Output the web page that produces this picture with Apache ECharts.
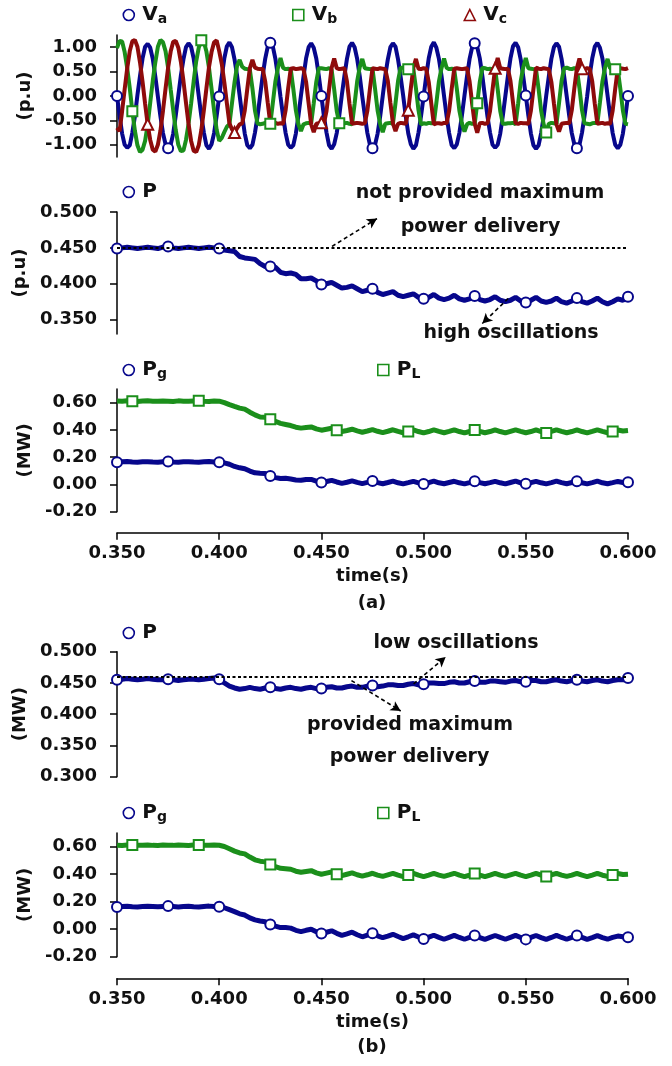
<!DOCTYPE html>
<html><head><meta charset="utf-8">
<script src="https://cdn.jsdelivr.net/npm/echarts@6/dist/echarts.min.js"></script>
<style>html,body{margin:0;padding:0;background:#fff}#c{width:672px;height:1066px}</style>
</head><body><div id="c"></div>
<script>
// ---- data ----
const T0 = 0.35;          // first sample time (s)
const DT_V = 0.00125;     // sample step of the voltage traces (s)
const DT_P = 0.0025;      // sample step of the power traces (s)
const X_TICKS = [0.35, 0.40, 0.45, 0.50, 0.55, 0.60];
const V_TICKS = [-1.0, -0.5, 0.0, 0.5, 1.0];
const PA_TICKS = [0.35, 0.40, 0.45, 0.50];
const MW_TICKS = [-0.2, 0.0, 0.2, 0.4, 0.6];
const PB_TICKS = [0.30, 0.35, 0.40, 0.45, 0.50];
const REF_A = 0.45;
const REF_B = 0.455;

const VA = [
 0,-0.40,-0.77,-1.00,-1.06,-1.01,-0.75,-0.42,0.02,0.41,0.77,1.01,1.07,0.99,0.76,0.40,
 -0.01,-0.42,-0.76,-0.99,-1.07,-1.00,-0.77,-0.40,0.01,0.42,0.75,1.00,1.08,1.01,0.77,0.41,
 0,-0.41,-0.75,-1.01,-1.08,-0.99,-0.76,-0.41,-0.01,0.40,0.77,1.02,1.10,1.00,0.75,0.42,
 0.01,-0.40,-0.77,-1.01,-1.07,-1.00,-0.75,-0.42,0,0.41,0.76,1.01,1.09,1.01,0.76,0.40,
 -0.02,-0.41,-0.76,-1.00,-1.06,-1.01,-0.77,-0.41,0.01,0.40,0.77,1.00,1.08,0.99,0.77,0.41,
 0,-0.42,-0.75,-1.01,-1.08,-0.99,-0.76,-0.40,0.02,0.41,0.76,1.01,1.09,1.00,0.76,0.41,
 -0.01,-0.40,-0.76,-1.00,-1.07,-1.00,-0.77,-0.42,0,0.42,0.75,1.00,1.08,1.01,0.75,0.40,
 0.01,-0.41,-0.77,-0.99,-1.08,-1.01,-0.75,-0.41,-0.01,0.40,0.77,1.01,1.10,0.99,0.76,0.42,
 0,-0.41,-0.76,-1.01,-1.07,-0.99,-0.76,-0.40,0.01,0.41,0.76,1.00,1.08,1.00,0.77,0.41,
 -0.01,-0.42,-0.75,-1.00,-1.06,-1.00,-0.77,-0.41,0,0.41,0.77,1.02,1.09,1.00,0.75,0.40,
 0.01,-0.40,-0.77,-1.01,-1.08,-1.01,-0.76,-0.42,0.01,0.40,0.76,1.00,1.08,1.01,0.76,0.41,
 0,-0.41,-0.76,-0.99,-1.07,-1.00,-0.75,-0.40,-0.01,0.42,0.77,1.01,1.09,0.99,0.77,0.42,
 0.01,-0.40,-0.76,-1.00,-1.07,-1.00,-0.77,-0.41,0
];
const VB = [
 0.98,1.13,1.12,0.90,0.57,0.16,-0.31,-0.71,-1.01,-1.15,-1.10,-0.92,-0.59,-0.14,0.31,0.69,
 1.01,1.15,1.10,0.92,0.58,0.14,-0.29,-0.70,-1.00,-1.13,-1.12,-0.90,-0.57,-0.16,0.30,0.71,
 0.99,1.14,1.11,0.91,0.58,0.15,-0.30,-0.69,-0.92,-0.86,-0.74,-0.63,-0.58,-0.15,0.28,0.62,
 0.74,0.60,0.56,0.55,0.54,0.16,-0.30,-0.56,-0.58,-0.57,-0.55,-0.56,-0.57,-0.14,0.30,0.58,
 0.78,0.58,0.55,0.56,0.55,0.15,-0.29,-0.58,-0.72,-0.58,-0.56,-0.55,-0.56,-0.15,0.29,0.57,
 0.57,0.56,0.55,0.57,0.54,0.14,-0.31,-0.56,-0.57,-0.56,-0.55,-0.57,-0.58,-0.16,0.30,0.59,
 0.76,0.57,0.56,0.55,0.56,0.15,-0.30,-0.57,-0.74,-0.57,-0.56,-0.55,-0.57,-0.15,0.31,0.58,
 0.58,0.56,0.55,0.56,0.55,0.16,-0.29,-0.58,-0.56,-0.57,-0.55,-0.56,-0.56,-0.14,0.30,0.57,
 0.77,0.58,0.55,0.56,0.54,0.15,-0.30,-0.56,-0.73,-0.58,-0.55,-0.57,-0.57,-0.15,0.29,0.58,
 0.57,0.55,0.56,0.55,0.56,0.14,-0.31,-0.57,-0.57,-0.56,-0.56,-0.55,-0.58,-0.16,0.30,0.59,
 0.78,0.57,0.56,0.55,0.55,0.15,-0.30,-0.58,-0.75,-0.57,-0.55,-0.56,-0.57,-0.15,0.31,0.57,
 0.58,0.56,0.55,0.57,0.55,0.16,-0.29,-0.56,-0.57,-0.58,-0.56,-0.55,-0.56,-0.14,0.30,0.58,
 0.76,0.57,0.56,0.55,0.54,0.15,-0.30,-0.57,-0.58
];
const VC = [
 -0.65,-0.72,-0.31,0.14,0.57,0.92,1.12,1.15,1.01,0.69,0.29,-0.16,-0.58,-0.90,-1.10,-1.14,
 -1.00,-0.71,-0.30,0.15,0.58,0.91,1.11,1.13,0.99,0.70,0.31,-0.14,-0.57,-0.92,-1.12,-1.15,
 -1.01,-0.70,-0.29,0.16,0.59,0.90,1.10,1.14,0.92,0.66,0.28,-0.15,-0.56,-0.68,-0.75,-0.66,
 -0.58,-0.56,-0.30,0.15,0.57,0.74,0.58,0.56,0.55,0.56,0.30,-0.14,-0.57,-0.56,-0.55,-0.57,
 -0.56,-0.57,-0.29,0.16,0.56,0.57,0.55,0.56,0.57,0.55,0.29,-0.15,-0.58,-0.74,-0.57,-0.56,
 -0.55,-0.56,-0.31,0.14,0.58,0.77,0.57,0.55,0.56,0.57,0.30,-0.16,-0.57,-0.56,-0.55,-0.56,
 -0.57,-0.56,-0.30,0.15,0.57,0.56,0.55,0.57,0.56,0.55,0.31,-0.14,-0.56,-0.72,-0.57,-0.55,
 -0.56,-0.57,-0.29,0.16,0.58,0.76,0.56,0.55,0.57,0.56,0.29,-0.15,-0.58,-0.56,-0.56,-0.57,
 -0.55,-0.56,-0.30,0.15,0.56,0.57,0.56,0.55,0.56,0.57,0.30,-0.16,-0.57,-0.75,-0.56,-0.55,
 -0.57,-0.56,-0.31,0.14,0.57,0.78,0.57,0.56,0.55,0.56,0.31,-0.14,-0.56,-0.57,-0.55,-0.56,
 -0.56,-0.57,-0.30,0.15,0.58,0.56,0.55,0.57,0.56,0.55,0.29,-0.15,-0.58,-0.73,-0.57,-0.56,
 -0.55,-0.56,-0.29,0.16,0.57,0.77,0.56,0.55,0.57,0.56,0.30,-0.16,-0.57,-0.56,-0.55,-0.57,
 -0.56,-0.57,-0.30,0.15,0.56,0.57,0.56,0.55,0.57
];
const P_A = [
 0.449,0.450,0.451,0.450,0.449,0.450,0.451,0.450,0.449,0.451,0.452,0.450,0.449,0.450,0.451,0.450,0.449,0.450,0.451,0.450,0.449,
 0.447,0.446,0.445,0.438,0.436,0.435,0.434,0.428,0.424,0.424,0.423,0.416,0.414,0.415,0.413,0.407,0.407,0.408,0.404,
 0.399,0.400,0.402,0.398,0.394,0.395,0.397,0.393,0.389,0.391,0.393,0.388,0.385,0.387,0.389,0.384,0.382,0.384,0.386,0.381,
 0.379,0.381,0.385,0.380,0.378,0.380,0.384,0.379,0.377,0.379,0.383,0.378,0.376,0.378,0.382,0.377,0.375,0.377,0.381,0.376,
 0.374,0.377,0.381,0.376,0.374,0.376,0.380,0.375,0.373,0.376,0.380,0.375,0.373,0.376,0.380,0.375,0.372,0.375,0.379,0.377,0.382
];
const PG_A = [
 0.163,0.166,0.168,0.165,0.163,0.166,0.167,0.164,0.163,0.166,0.168,0.165,0.163,0.166,0.167,0.164,0.163,0.166,0.168,0.165,0.163,
 0.158,0.148,0.132,0.122,0.115,0.098,0.085,0.082,0.080,0.062,0.050,0.043,0.045,0.040,0.033,0.030,0.036,0.037,0.025,
 0.015,0.022,0.030,0.018,0.008,0.016,0.026,0.015,0.006,0.015,0.025,0.013,0.005,0.014,0.024,0.012,0.004,0.013,0.023,0.012,
 0.004,0.013,0.024,0.012,0.005,0.014,0.023,0.012,0.004,0.013,0.024,0.013,0.005,0.013,0.023,0.012,0.004,0.014,0.024,0.012,
 0.005,0.013,0.023,0.012,0.004,0.013,0.024,0.013,0.005,0.014,0.023,0.012,0.004,0.013,0.024,0.012,0.005,0.013,0.022,0.014,0.016
];
const PL_A = [
 0.612,0.610,0.613,0.611,0.609,0.612,0.614,0.611,0.610,0.612,0.611,0.609,0.613,0.611,0.610,0.612,0.614,0.611,0.609,0.612,0.611,
 0.600,0.585,0.572,0.560,0.552,0.530,0.510,0.495,0.492,0.478,0.462,0.448,0.440,0.432,0.420,0.413,0.418,0.422,0.408,
 0.398,0.405,0.412,0.398,0.388,0.396,0.405,0.393,0.383,0.392,0.402,0.390,0.380,0.390,0.401,0.389,0.379,0.389,0.400,0.388,
 0.378,0.388,0.400,0.389,0.379,0.389,0.401,0.388,0.378,0.388,0.400,0.389,0.379,0.388,0.401,0.388,0.378,0.389,0.400,0.389,
 0.379,0.388,0.400,0.388,0.378,0.389,0.401,0.389,0.379,0.388,0.400,0.388,0.378,0.389,0.401,0.389,0.379,0.388,0.399,0.392,0.396
];
const P_B = [
 0.455,0.456,0.457,0.456,0.455,0.456,0.457,0.456,0.455,0.455,0.456,0.455,0.454,0.455,0.456,0.456,0.455,0.456,0.457,0.458,0.456,
 0.450,0.445,0.442,0.440,0.441,0.443,0.441,0.440,0.442,0.443,0.441,0.440,0.442,0.443,0.441,0.440,0.442,0.443,0.441,
 0.441,0.443,0.444,0.442,0.442,0.444,0.445,0.443,0.443,0.445,0.446,0.444,0.445,0.447,0.447,0.446,0.446,0.448,0.449,0.447,
 0.448,0.450,0.450,0.449,0.449,0.451,0.452,0.450,0.450,0.452,0.453,0.451,0.451,0.453,0.453,0.452,0.451,0.453,0.454,0.452,
 0.452,0.454,0.454,0.452,0.452,0.454,0.455,0.453,0.452,0.454,0.455,0.453,0.452,0.454,0.455,0.453,0.452,0.454,0.455,0.455,0.458
];
const PG_B = [
 0.162,0.165,0.167,0.164,0.162,0.165,0.167,0.165,0.163,0.166,0.168,0.165,0.162,0.165,0.167,0.164,0.162,0.166,0.168,0.165,0.163,
 0.156,0.142,0.128,0.112,0.103,0.082,0.068,0.060,0.055,0.035,0.022,0.012,0.012,0.008,-0.008,-0.018,-0.008,0.000,-0.018,
 -0.032,-0.022,-0.012,-0.030,-0.045,-0.034,-0.022,-0.040,-0.055,-0.043,-0.030,-0.048,-0.062,-0.050,-0.037,-0.053,-0.068,-0.055,-0.041,-0.057,
 -0.072,-0.058,-0.044,-0.059,-0.073,-0.059,-0.045,-0.060,-0.073,-0.060,-0.046,-0.061,-0.074,-0.060,-0.046,-0.060,-0.073,-0.059,-0.045,-0.060,
 -0.074,-0.060,-0.046,-0.061,-0.074,-0.060,-0.045,-0.060,-0.073,-0.059,-0.045,-0.060,-0.074,-0.061,-0.047,-0.061,-0.073,-0.060,-0.050,-0.055,-0.058
];
const PL_B = [
 0.611,0.609,0.612,0.613,0.610,0.611,0.613,0.610,0.609,0.612,0.611,0.610,0.613,0.611,0.609,0.612,0.613,0.611,0.610,0.612,0.611,
 0.602,0.585,0.568,0.555,0.548,0.525,0.505,0.495,0.490,0.470,0.455,0.443,0.440,0.436,0.422,0.414,0.420,0.426,0.410,
 0.400,0.408,0.416,0.400,0.390,0.400,0.410,0.396,0.386,0.396,0.407,0.394,0.384,0.395,0.406,0.393,0.383,0.394,0.406,0.393,
 0.383,0.394,0.406,0.394,0.384,0.395,0.407,0.393,0.383,0.394,0.406,0.393,0.383,0.394,0.407,0.394,0.384,0.395,0.406,0.393,
 0.383,0.394,0.406,0.393,0.383,0.395,0.407,0.394,0.384,0.394,0.406,0.393,0.383,0.394,0.406,0.393,0.384,0.395,0.405,0.398,0.400
];

// ---- style ----
const FONT = "'DejaVu Sans', sans-serif";
const BLUE = '#07078c', GREEN = '#1b8f1b', RED = '#8e0b0b', INK = '#111';
const LABELS = {Va:['V','a'],Vb:['V','b'],Vc:['V','c'],Pa:['P',''],Pb:['P',''],Pga:['P','g'],PLa:['P','L'],Pgb:['P','g'],PLb:['P','L']};

function pts(values, dt, mark) {
  const out = values.map((v, i) => [+(T0 + i * dt).toFixed(6), v]);
  if (mark) {
    for (let k = 0; ; k++) {
      const tm = mark.start + k * mark.step;
      if (tm > 0.6 + 1e-9) break;
      const i = Math.round((tm - T0) / dt);
      if (i >= 0 && i < out.length) out[i] = {value: out[i], symbol: mark.symbol, symbolSize: mark.size};
    }
  }
  return out;
}
const CIRC = {start: 0.35, step: 0.025, symbol: 'emptyCircle', size: 10};
const SQR = {start: 0.3572, step: 0.03375, symbol: 'emptyRect', size: 10};
const TRI = {start: 0.365, step: 0.0425, symbol: 'emptyTriangle', size: 11};

const grids = [
  {left: 117, right: 44, top: 35, height: 122},
  {left: 117, right: 44, top: 212, height: 122},
  {left: 117, right: 44, top: 389, height: 122.7},
  {left: 117, right: 44, top: 651.7, height: 125},
  {left: 117, right: 44, top: 833, height: 123.7}
].map(g => Object.assign({outerBoundsMode: 'none', containLabel: false}, g));

const txt = (size) => ({fontFamily: FONT, fontWeight: 'bold', fontSize: size, color: INK});

function yAx(gi, min, max, ticks, dec, name) {
  return {type: 'value', gridIndex: gi, min, max, name, nameLocation: 'middle', nameGap: 80, nameRotate: 90,
    nameTextStyle: txt(18),
    axisLine: {show: true, lineStyle: {color: '#000', width: 1.5}},
    axisTick: {show: true, inside: false, length: 7, customValues: ticks, lineStyle: {color: '#000', width: 1.5}},
    axisLabel: Object.assign({customValues: ticks, margin: 20, formatter: v => v.toFixed(dec)}, txt(18)),
    splitLine: {show: false}};
}
function xAx(gi, show, offset) {
  return {type: 'value', gridIndex: gi, min: 0.35, max: 0.6, show, offset,
    name: show ? 'time(s)' : '', nameLocation: 'middle', nameGap: 35, nameTextStyle: txt(18),
    axisLine: {show: true, onZero: false, lineStyle: {color: '#000', width: 1.5}},
    axisTick: {show: true, inside: false, length: 7, customValues: X_TICKS, lineStyle: {color: '#000', width: 1.5}},
    axisLabel: Object.assign({customValues: X_TICKS, margin: 12, formatter: v => v.toFixed(3)}, txt(18)),
    splitLine: {show: false}};
}
// (cx, cy) = centre of the legend symbol
function leg(name, icon, color, cx, cy) {
  return {show: true, selectedMode: false, left: cx - 5.5, top: cy - 11, padding: 0, itemWidth: 11, itemHeight: 11,
    data: [{name, icon, itemStyle: {color: '#fff', borderColor: color, borderWidth: 1.6}}],
    formatter: n => '{b|' + LABELS[n][0] + '}' + (LABELS[n][1] ? '{s|' + LABELS[n][1] + '}' : ''),
    textStyle: {color: INK, rich: {
      b: {fontFamily: FONT, fontWeight: 'bold', fontSize: 20, lineHeight: 22, color: INK, padding: [0, 0, 0, 3]},
      s: {fontFamily: FONT, fontWeight: 'bold', fontSize: 14, lineHeight: 9, verticalAlign: 'bottom', color: INK}}}};
}
function line(name, gi, data, color, width, extra) {
  return Object.assign({type: 'line', name, xAxisIndex: gi, yAxisIndex: gi, data, symbol: 'none',
    lineStyle: {color, width}, itemStyle: {color, borderWidth: 1.5}, silent: true, z: 3}, extra || {});
}
const dotted = {color: '#000', width: 1.8, type: [3, 2.5]};
const dashArrow = {color: '#000', width: 1.6, type: [4, 3]};
function arrow(a, b) {
  return [{coord: a, symbol: 'none', lineStyle: dashArrow}, {coord: b, symbol: 'arrow', symbolSize: [8, 10], lineStyle: dashArrow}];
}

const option = {
  animation: false,
  backgroundColor: '#fff',
  grid: grids,
  xAxis: [xAx(0, false, 0), xAx(1, false, 0), xAx(2, true, 21), xAx(3, false, 0), xAx(4, true, 21.6)],
  yAxis: [
    yAx(0, -1.25, 1.25, V_TICKS, 2, '(p.u)'),
    yAx(1, 0.33, 0.50, PA_TICKS, 3, '(p.u)'),
    yAx(2, -0.2, 0.7, MW_TICKS, 2, '(MW)'),
    yAx(3, 0.30, 0.50, PB_TICKS, 3, '(MW)'),
    yAx(4, -0.2, 0.7, MW_TICKS, 2, '(MW)')
  ],
  legend: [
    leg('Va', 'circle', BLUE, 128, 16), leg('Vb', 'rect', GREEN, 297.5, 16), leg('Vc', 'triangle', RED, 469, 16),
    leg('Pa', 'circle', BLUE, 128, 193),
    leg('Pga', 'circle', BLUE, 128, 371), leg('PLa', 'rect', GREEN, 382.5, 371),
    leg('Pb', 'circle', BLUE, 128, 634),
    leg('Pgb', 'circle', BLUE, 128, 814), leg('PLb', 'rect', GREEN, 382.5, 814)
  ],
  series: [
    line('Va', 0, pts(VA, DT_V, CIRC), BLUE, 4),
    line('Vb', 0, pts(VB, DT_V, SQR), GREEN, 4),
    line('Vc', 0, pts(VC, DT_V, TRI), RED, 4),
    line('Pa', 1, pts(P_A, DT_P, CIRC), BLUE, 5, {markLine: {silent: true, symbol: 'none', label: {show: false},
      data: [{yAxis: REF_A, lineStyle: dotted}, arrow([0.4552, 0.4521], [0.4772, 0.4908]), arrow([0.5414, 0.3795], [0.5287, 0.3446])]}}),
    line('Pga', 2, pts(PG_A, DT_P, CIRC), BLUE, 5),
    line('PLa', 2, pts(PL_A, DT_P, SQR), GREEN, 5),
    line('Pb', 3, pts(P_B, DT_P, CIRC), BLUE, 5, {markLine: {silent: true, symbol: 'none', label: {show: false},
      data: [{yAxis: REF_B, lineStyle: dotted}, arrow([0.4951, 0.4484], [0.5108, 0.4915]), arrow([0.4647, 0.4538], [0.4888, 0.4052])]}}),
    line('Pgb', 4, pts(PG_B, DT_P, CIRC), BLUE, 5),
    line('PLb', 4, pts(PL_B, DT_P, SQR), GREEN, 5)
  ],
  graphic: [
    ['not provided maximum', 480, 193], ['power delivery', 480.5, 227], ['high oscillations', 511, 333],
    ['low oscillations', 456, 643], ['provided maximum', 410, 725], ['power delivery', 409.5, 757],
    ['(a)', 372, 603], ['(b)', 372, 1047]
  ].map(([t, x, y]) => ({type: 'text', x, y, silent: true, z: 10,
    style: {text: t, fill: INK, font: 'bold ' + (t[0] === '(' ? 18 : 19) + "px 'DejaVu Sans', sans-serif", textAlign: 'center', textVerticalAlign: 'middle'}}))
};
echarts.init(document.getElementById('c'), null, {renderer: 'canvas'}).setOption(option);
</script></body></html>
